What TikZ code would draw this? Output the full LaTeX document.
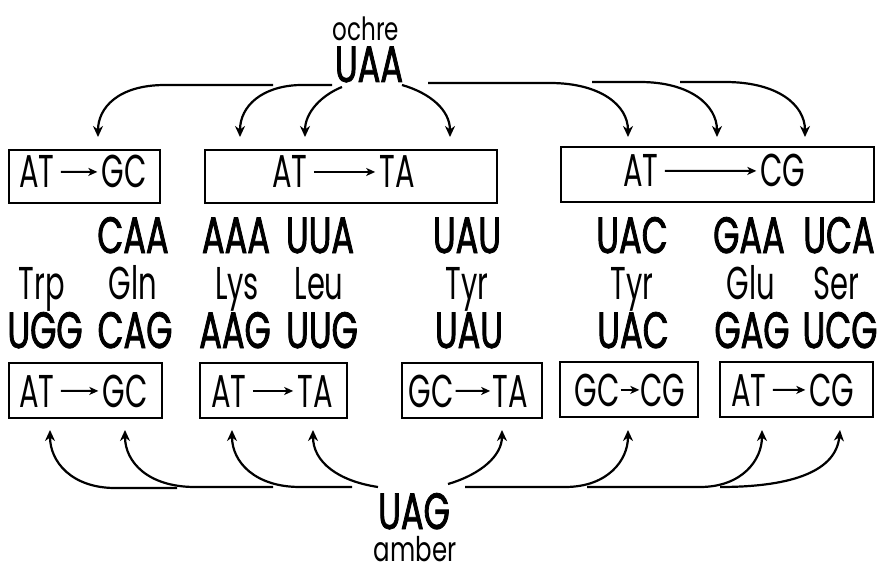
\documentclass[tikz,border=0pt]{standalone}
\usepackage{fontspec}
\setmainfont{Poppins}[FakeStretch=0.72]
\newfontfamily\regf{Poppins}[FakeStretch=0.63]
\newfontfamily\codf{Poppins}[FakeStretch=0.66, FakeBold=1.6]
\usetikzlibrary{arrows.meta}
\tikzset{
  txt/.style={inner sep=0pt, anchor=base},
  reg/.style={txt, font=\regf\fontsize{46}{46}\selectfont},
  cod/.style={txt, font=\codf\fontsize{51}{51}\selectfont},
  boxn/.style={draw, line width=2pt, inner sep=0pt},
  inarrow/.style={line width=2pt, -{Stealth[length=9pt,width=8pt,inset=2.5pt]}, shorten <=6pt, shorten >=4pt},
  curarrow/.style={line width=2.2pt, -{Stealth[length=11pt,width=10pt,inset=3.5pt]}},
}
\begin{document}
\begin{tikzpicture}[x=1pt,y=-1pt]
\useasboundingbox (0,0) rectangle (879,567);
% top labels
\node[txt, font=\fontsize{32}{32}\selectfont] (ochre) at (366,41) {ochre};
\node[cod] (uaa) at (369,82) {UAA};
% top boxes
\node[boxn, minimum width=151pt, minimum height=53pt] (tb1) at (84.5,176.5) {};
\node[boxn, minimum width=292pt, minimum height=53pt] (tb2) at (351,176.5) {};
\node[boxn, minimum width=313pt, minimum height=55pt] (tb3) at (717.5,174.5) {};
\node[reg] (tb1l) at (37,188) {AT};
\node[reg] (tb1r) at (124,188) {GC};
\node[reg] (tb2l) at (290,188) {AT};
\node[reg] (tb2r) at (397,188) {TA};
\node[reg] (tb3l) at (641,187) {AT};
\node[reg] (tb3r) at (783,187) {CG};
\draw[inarrow] (tb1l.east) -- (tb1r.west);
\draw[inarrow] (tb2l.east) -- (tb2r.west);
\draw[inarrow] (tb3l.east) -- (tb3r.west);
% row 1 codons
\node[cod] (r1a) at (133,253) {CAA};
\node[cod] (r1b) at (236,253) {AAA};
\node[cod] (r1c) at (320,253) {UUA};
\node[cod] (r1d) at (467,253) {UAU};
\node[cod] (r1e) at (632,253) {UAC};
\node[cod] (r1f) at (749,253) {GAA};
\node[cod] (r1g) at (839,253) {UCA};
% row 2 amino acids
\node[reg] (aa1) at (42,299) {Trp};
\node[reg] (aa2) at (133,299) {Gln};
\node[reg] (aa3) at (237,299) {Lys};
\node[reg] (aa4) at (319,299) {Leu};
\node[reg] (aa5) at (467,299) {Tyr};
\node[reg] (aa6) at (632,299) {Tyr};
\node[reg] (aa7) at (751,299) {Glu};
\node[reg] (aa8) at (836,299) {Ser};
% row 3 codons
\node[cod] (r3a) at (45,348) {UGG};
\node[cod] (r3b) at (135,348) {CAG};
\node[cod] (r3c) at (235,348) {AAG};
\node[cod] (r3d) at (322,348) {UUG};
\node[cod] (r3e) at (469,348) {UAU};
\node[cod] (r3f) at (633,348) {UAC};
\node[cod] (r3g) at (752,348) {GAG};
\node[cod] (r3h) at (840,348) {UCG};
% bottom boxes
\node[boxn, minimum width=153pt, minimum height=55pt] (bb1) at (85.5,390.5) {};
\node[boxn, minimum width=147pt, minimum height=55pt] (bb2) at (273.5,390.5) {};
\node[boxn, minimum width=140pt, minimum height=55pt] (bb3) at (472,390.5) {};
\node[boxn, minimum width=138pt, minimum height=55pt] (bb4) at (629,389.5) {};
\node[boxn, minimum width=153pt, minimum height=55pt] (bb5) at (796.5,389.5) {};
\node[reg] (bb1l) at (37,407) {AT};
\node[reg] (bb1r) at (125,407) {GC};
\node[reg] (bb2l) at (229,407) {AT};
\node[reg] (bb2r) at (315,407) {TA};
\node[reg] (bb3l) at (431,407) {GC};
\node[reg] (bb3r) at (510,407) {TA};
\node[reg] (bb4l) at (597,406) {GC};
\node[reg] (bb4r) at (663,406) {CG};
\node[reg] (bb5l) at (749,406) {AT};
\node[reg] (bb5r) at (832,406) {CG};
\draw[inarrow] (bb1l.east) -- (bb1r.west);
\draw[inarrow] (bb2l.east) -- (bb2r.west);
\draw[inarrow, shorten <=2pt, shorten >=2pt] (bb3l.east) -- (bb3r.west);
\draw[inarrow, shorten <=1pt, shorten >=1pt] (bb4l.east) -- (bb4r.west);
\draw[inarrow] (bb5l.east) -- (bb5r.west);
% bottom labels
\node[cod] (uag) at (414,529) {UAG};
\node[txt, font=\fontsize{34}{34}\selectfont] (amber) at (415,561) {amber};
% top arrow start/end points
\coordinate (s1) at (273,85);  \coordinate (e1) at (98,137);
\coordinate (s2) at (332,85);  \coordinate (e2) at (240,137);
\coordinate (s3) at (342,87);  \coordinate (e3) at (305,137);
\coordinate (s4) at (402,85);  \coordinate (e4) at (450,137);
\coordinate (s5) at (428,83);  \coordinate (e5) at (628,137);
\coordinate (s6) at (592,82);  \coordinate (e6) at (717,137);
\coordinate (s7) at (680,82);  \coordinate (e7) at (805,137);
\draw[curarrow] (s1) -- (165,85) .. controls (118,85) and (98,108) .. (e1);
\draw[curarrow] (s2) -- (300,85) .. controls (262,86) and (240,106) .. (e2);
\draw[curarrow] (s3) .. controls (322,95) and (305,112) .. (e3);
\draw[curarrow] (s4) .. controls (430,93) and (450,110) .. (e4);
\draw[curarrow] (s5) -- (550,83) .. controls (600,83) and (628,105) .. (e5);
\draw[curarrow] (s6) -- (640,82) .. controls (690,82) and (717,105) .. (e6);
\draw[curarrow] (s7) -- (725,82) .. controls (778,82) and (805,105) .. (e7);
% bottom arrows
\coordinate (u1) at (177,488); \coordinate (f1) at (50,430);
\coordinate (u2) at (273,487); \coordinate (f2) at (125,430);
\coordinate (u3) at (352,487); \coordinate (f3) at (232,430);
\coordinate (u4) at (378,487); \coordinate (f4) at (313,430);
\coordinate (u5) at (448,484); \coordinate (f5) at (502,430);
\coordinate (u6) at (465,487); \coordinate (f6) at (628,430);
\coordinate (u7) at (587,487); \coordinate (f7) at (762,430);
\coordinate (u8) at (720,487); \coordinate (f8) at (840,430);
\draw[curarrow] (u1) -- (115,488) .. controls (72,488) and (50,462) .. (f1);
\draw[curarrow] (u2) -- (195,487) .. controls (148,487) and (125,462) .. (f2);
\draw[curarrow] (u3) -- (300,487) .. controls (255,487) and (232,462) .. (f3);
\draw[curarrow] (u4) .. controls (338,481) and (313,462) .. (f4);
\draw[curarrow] (u5) .. controls (482,474) and (502,455) .. (f5);
\draw[curarrow] (u6) -- (565,487) .. controls (608,487) and (628,460) .. (f6);
\draw[curarrow] (u7) -- (700,487) .. controls (742,487) and (762,460) .. (f7);
\draw[curarrow] (u8) .. controls (795,487) and (836,470) .. (f8);
\end{tikzpicture}
\end{document}
